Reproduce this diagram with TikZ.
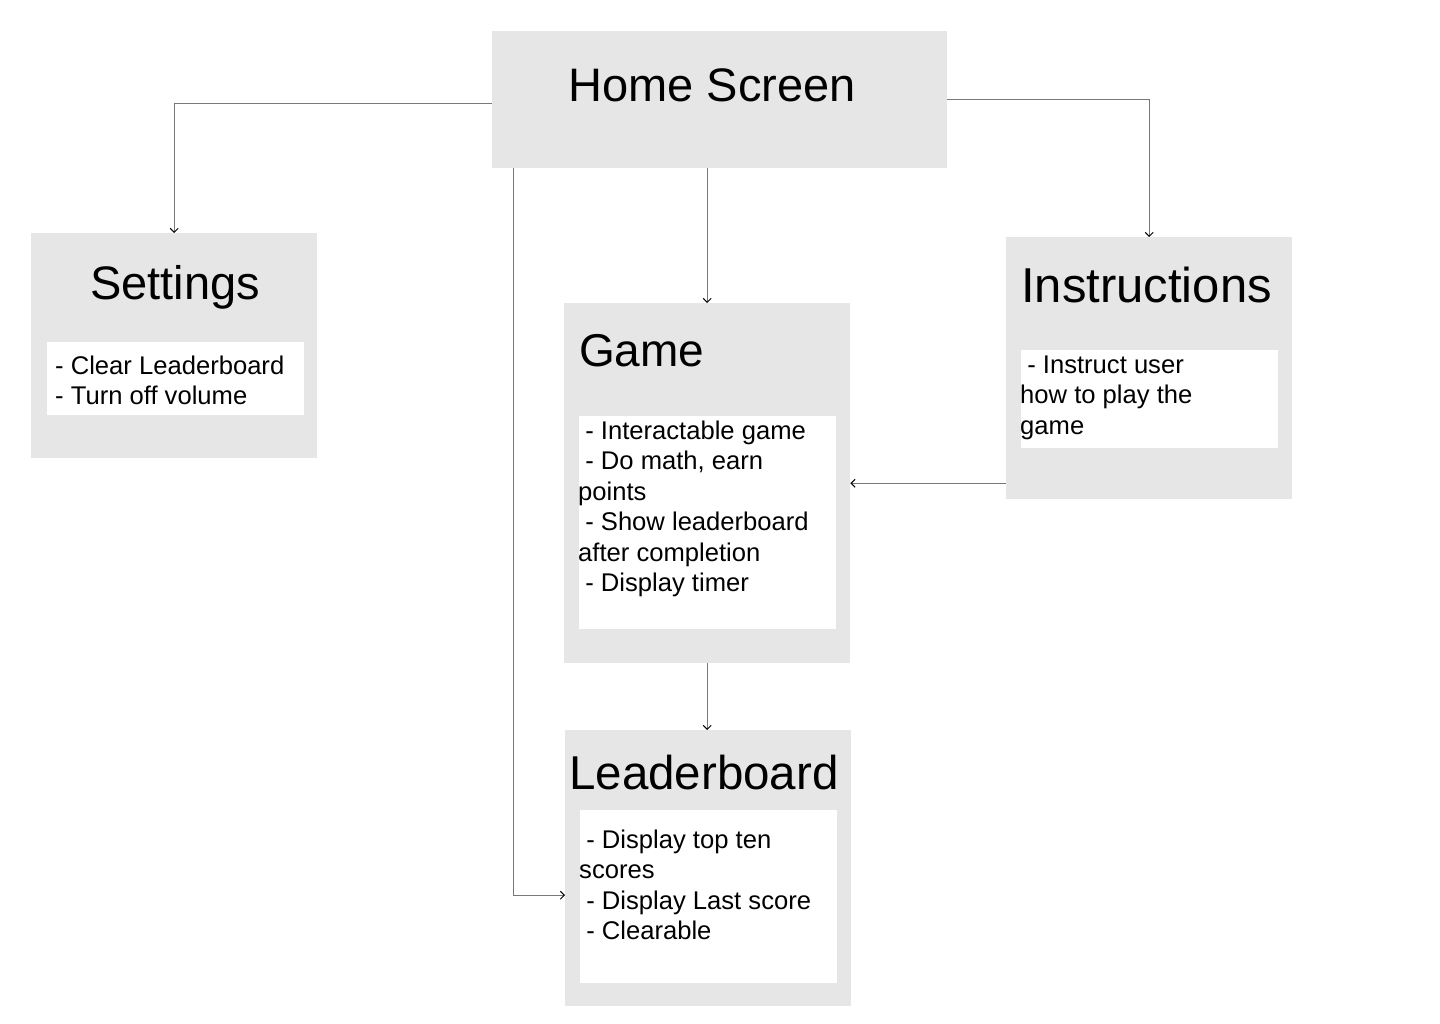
\documentclass[tikz,border=0pt]{standalone}
\usepackage{fontspec}
\setmainfont{Liberation Sans}
\usetikzlibrary{arrows.meta}

\definecolor{boxgray}{RGB}{230,230,230}
\definecolor{linegray}{RGB}{120,120,120}

\tikzset{
  screen/.style={fill=boxgray, draw=none, inner sep=0pt, anchor=north west},
  notes/.style={fill=white, draw=none, inner sep=0pt, anchor=north west},
  title/.style={inner sep=0pt, font=\fontsize{47}{56}\selectfont},
  body/.style={inner sep=0pt, anchor=base west, font=\fontsize{25.6}{30.5}\selectfont},
  link/.style={draw=linegray, line width=1pt, -{Straight Barb[black,length=4pt,width=8pt,line width=1pt]}}
}

\begin{document}
\begin{tikzpicture}[x=1pt, y=-1pt]
\useasboundingbox (0,0) rectangle (1440,1024);

% the screens
\node[screen, minimum width=455pt, minimum height=137pt] (home) at (492,31) {};
\node[screen, minimum width=286pt, minimum height=225pt] (settings) at (31,233) {};
\node[screen, minimum width=286pt, minimum height=360pt] (game) at (564,303) {};
\node[screen, minimum width=286pt, minimum height=262pt] (instr) at (1006,237) {};
\node[screen, minimum width=286pt, minimum height=276pt] (board) at (565,730) {};

% white note areas
\node[notes, minimum width=257pt, minimum height=73pt] (settingsnotes) at (47,342) {};
\node[notes, minimum width=257pt, minimum height=213pt] (gamenotes) at (579,416) {};
\node[notes, minimum width=257pt, minimum height=98pt] (instrnotes) at (1021,350) {};
\node[notes, minimum width=257pt, minimum height=173pt] (boardnotes) at (580,810) {};

% titles
\node[title, anchor=base] (hometitle) at (712,102) {Home Screen};
\node[title, anchor=base, font=\fontsize{47}{56}\selectfont] (settingstitle) at (175,300) {Settings};
\node[title, anchor=base west, font=\fontsize{46}{55}\selectfont] (gametitle) at (579,366) {Game};
\node[title, anchor=base west, font=\fontsize{49}{58}\selectfont] (instrtitle) at (1021,302) {Instructions};
\node[title, anchor=base west, font=\fontsize{47.5}{57}\selectfont] (boardtitle) at (569,789) {Leaderboard};

% notes text
\node[body] (settingstext) at (55,374) {\begin{tabular}[t]{@{}l@{}}
- Clear Leaderboard\\
- Turn off volume
\end{tabular}};
\node[body] (gametext) at (578,439) {\begin{tabular}[t]{@{}l@{}}
\ - Interactable game\\
\ - Do math, earn\\
points\\
\ - Show leaderboard\\
after completion\\
\ - Display timer
\end{tabular}};
\node[body] (instrtext) at (1020,373) {\begin{tabular}[t]{@{}l@{}}
\ - Instruct user\\
how to play the\\
game
\end{tabular}};
\node[body] (boardtext) at (579,848) {\begin{tabular}[t]{@{}l@{}}
\ - Display top ten\\
scores\\
\ - Display Last score\\
\ - Clearable
\end{tabular}};

% connectors
\draw[link] ([yshift=-3.5pt]home.west) -| (settings.north);
\draw[link] (home.east) -| (instr.north);
\draw[link] (home.south -| game.north) -- (game.north);
\draw[link] ([xshift=21pt]home.south west) |- ([yshift=-27pt]board.west);
\draw[link] (game.east -| instr.west) -- (game.east);
\draw[link] (game.south) -- (game.south |- board.north);
\end{tikzpicture}
\end{document}
